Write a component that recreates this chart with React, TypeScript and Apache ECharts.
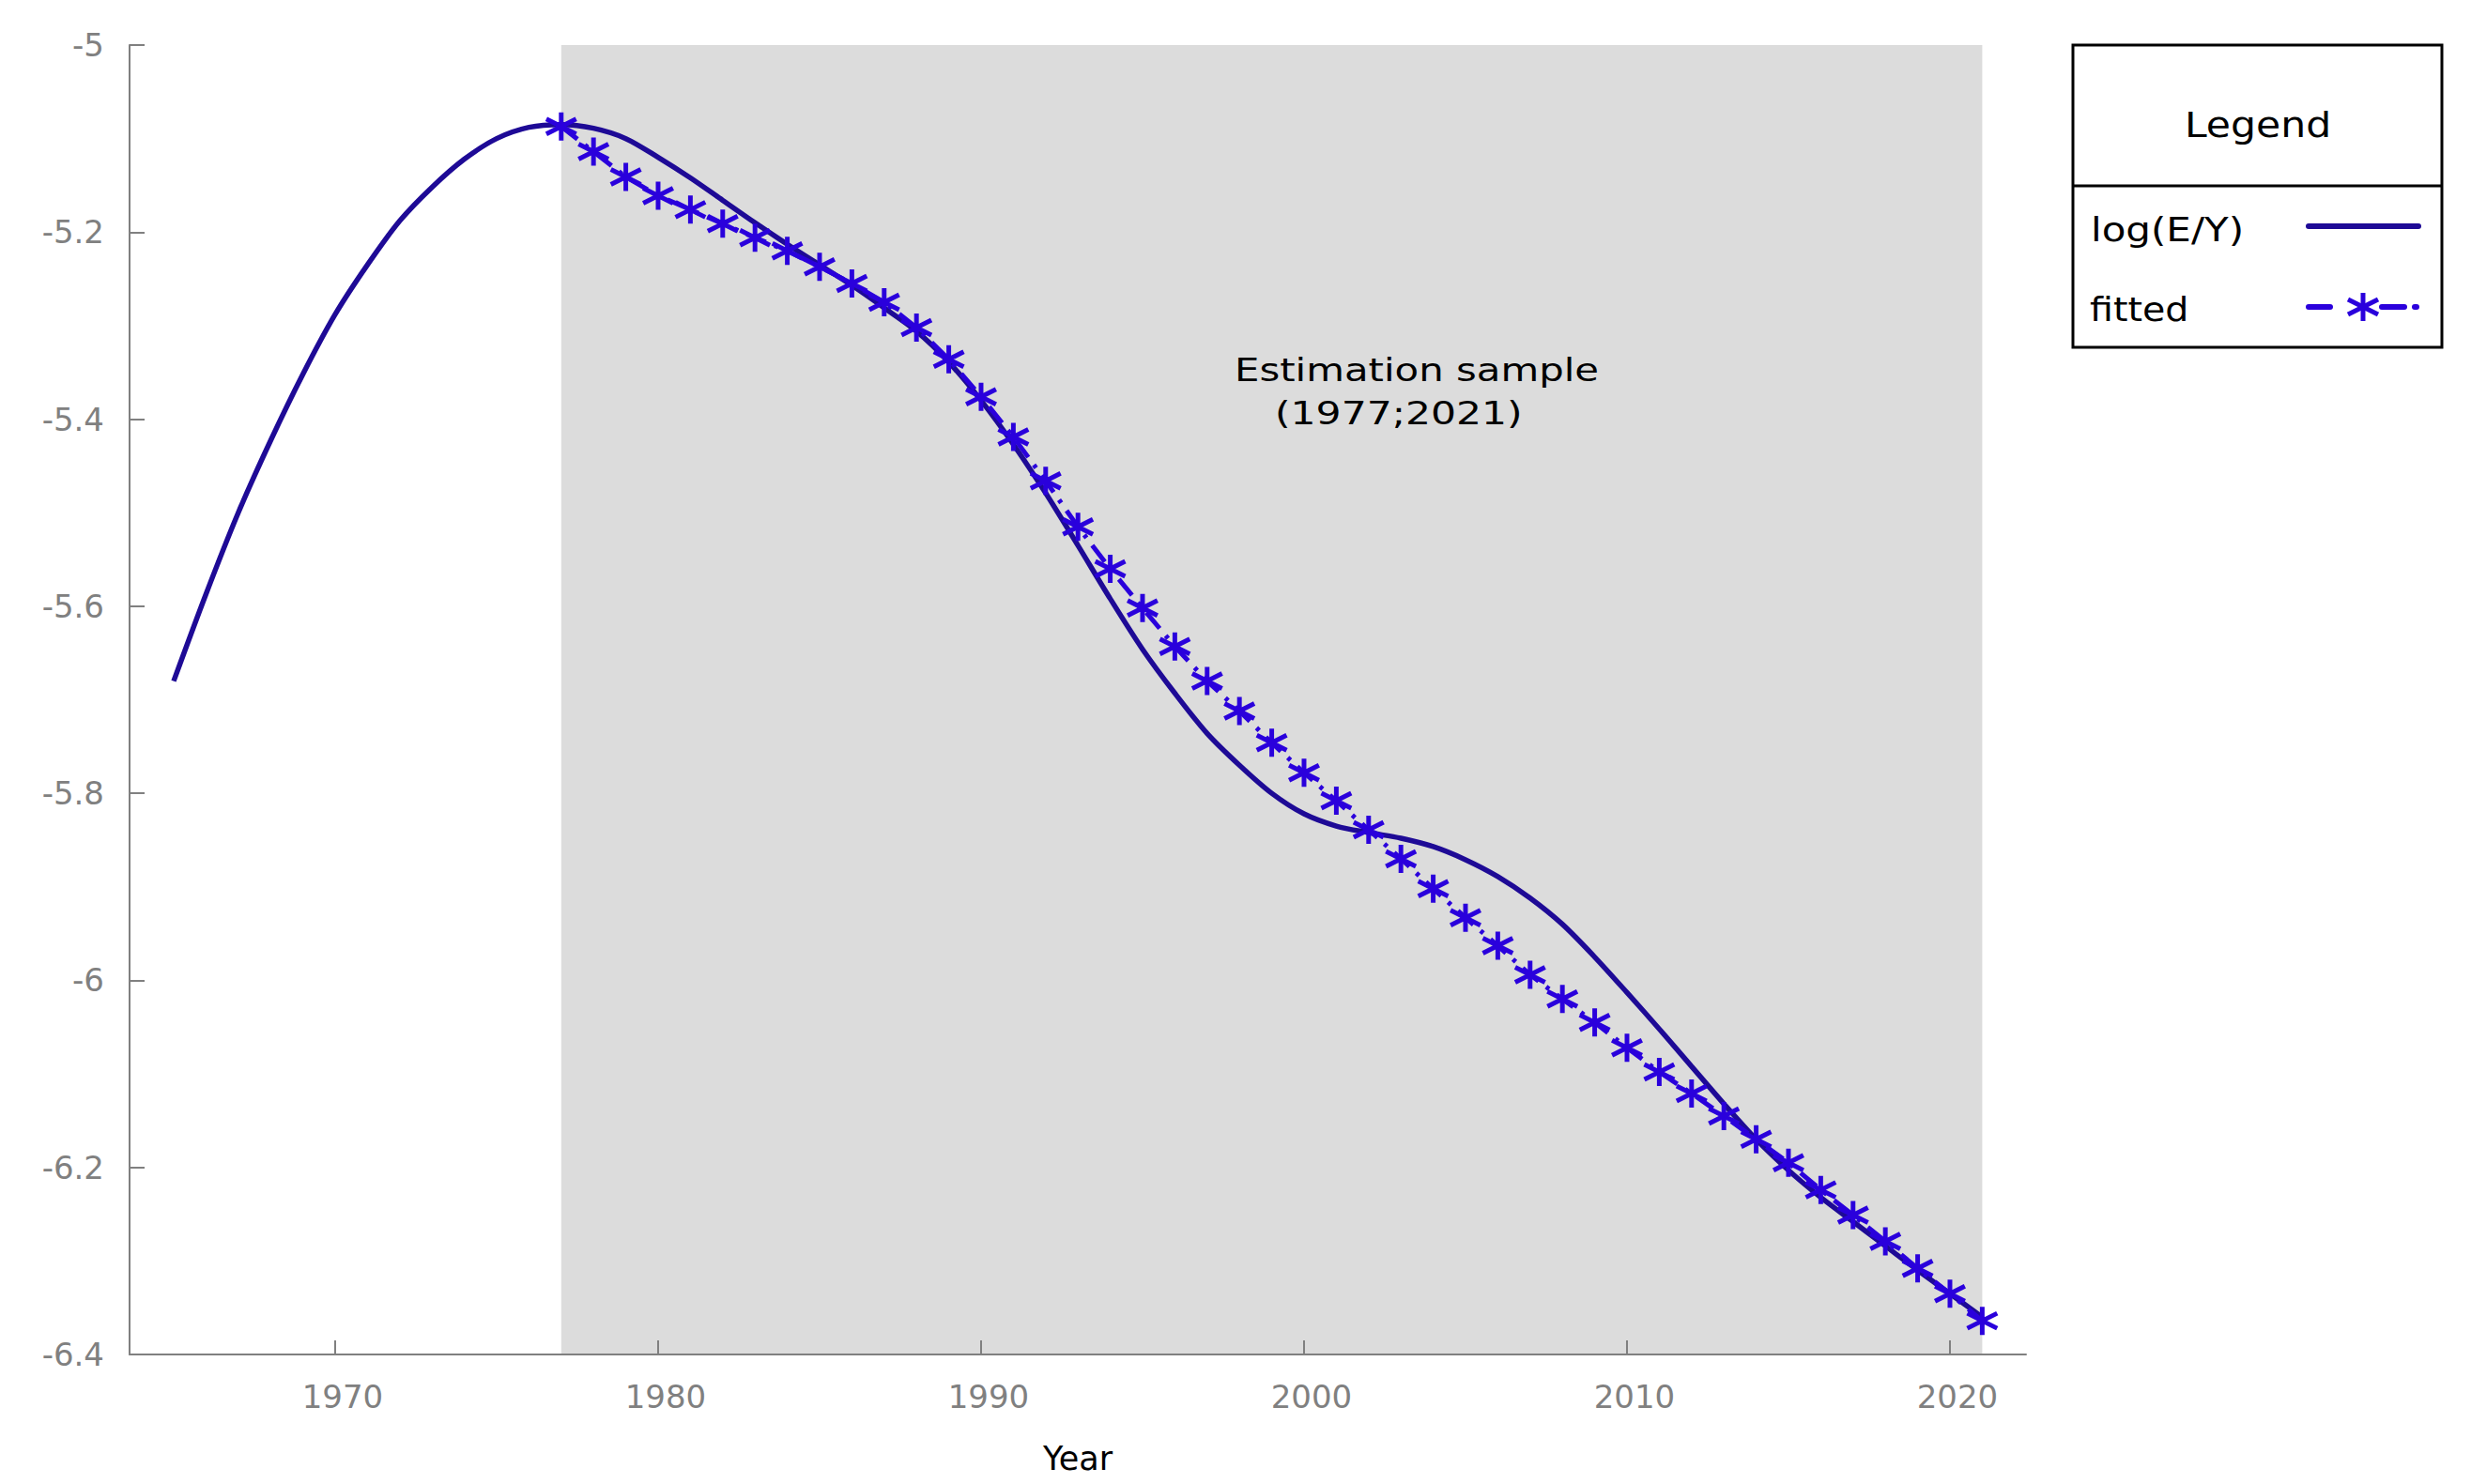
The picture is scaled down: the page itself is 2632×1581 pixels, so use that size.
import React, { useEffect, useRef } from "react";
import * as echarts from "echarts";

// ---- data ----
const yearsAll = [
  1965, 1966, 1967, 1968, 1969, 1970, 1971, 1972, 1973, 1974, 1975, 1976, 1977, 1978, 1979,
  1980, 1981, 1982, 1983, 1984, 1985, 1986, 1987, 1988, 1989, 1990, 1991, 1992, 1993, 1994,
  1995, 1996, 1997, 1998, 1999, 2000, 2001, 2002, 2003, 2004, 2005, 2006, 2007, 2008, 2009,
  2010, 2011, 2012, 2013, 2014, 2015, 2016, 2017, 2018, 2019, 2020, 2021,
];
const logEY = [
  -5.68, -5.587, -5.5, -5.423, -5.352, -5.288, -5.235, -5.188, -5.152, -5.122, -5.1, -5.088,
  -5.085, -5.089, -5.1, -5.12, -5.142, -5.166, -5.19, -5.213, -5.235, -5.257, -5.281, -5.306,
  -5.339, -5.38, -5.427, -5.479, -5.535, -5.592, -5.646, -5.693, -5.736, -5.77, -5.8, -5.822,
  -5.835, -5.842, -5.848, -5.857, -5.871, -5.889, -5.912, -5.94, -5.975, -6.013, -6.052, -6.092,
  -6.132, -6.17, -6.203, -6.232, -6.258, -6.284, -6.31, -6.335, -6.36,
];
const fittedYears = [
  1977, 1978, 1979, 1980, 1981, 1982, 1983, 1984, 1985, 1986, 1987, 1988, 1989, 1990, 1991,
  1992, 1993, 1994, 1995, 1996, 1997, 1998, 1999, 2000, 2001, 2002, 2003, 2004, 2005, 2006,
  2007, 2008, 2009, 2010, 2011, 2012, 2013, 2014, 2015, 2016, 2017, 2018, 2019, 2020, 2021,
];
const fitted = [
  -5.087, -5.114, -5.141, -5.161, -5.176, -5.191, -5.206, -5.22, -5.237, -5.255, -5.275, -5.302,
  -5.336, -5.376, -5.419, -5.466, -5.515, -5.56, -5.602, -5.643, -5.68, -5.712, -5.746, -5.778,
  -5.808, -5.839, -5.87, -5.902, -5.933, -5.963, -5.994, -6.02, -6.045, -6.072, -6.098, -6.121,
  -6.145, -6.17, -6.195, -6.224, -6.251, -6.279, -6.308, -6.335, -6.364,
];
const xTickYears = [1970, 1980, 1990, 2000, 2010, 2020];
const sampleRange = [1977, 2021];
const seriesNames = ["log(E/Y)", "fitted"];
const annotationLines = ["Estimation sample", "(1977;2021)"];

// ---- styles ----
const FONT = "DejaVu Sans";
const SOLID_COLOR = "#1e0a96";
const FIT_COLOR = "#2a00dc";
const AXIS_COLOR = "#808080";
const SHADE_COLOR = "#dcdcdc";

// six-armed asterisk made of three filled bars (consistent winding)
const STAR_BARS: number[][][] = [
  [[-2.5, -15], [-2.5, 15], [2.5, 15], [2.5, -15]],
  [[14.88, 10.24], [17.12, 5.76], [-14.88, -10.24], [-17.12, -5.76]],
  [[14.88, -10.24], [-17.12, 5.76], [-14.88, 10.24], [17.12, -5.76]],
];
const STAR_PATH =
  "path://" +
  STAR_BARS.map((bar) => "M" + bar.map((p) => p[0] + " " + p[1]).join(" L") + " Z").join(" ");

export default function App() {
  const ref = useRef<HTMLDivElement>(null);

  useEffect(() => {
    document.body.style.margin = "0";
    document.body.style.overflow = "hidden";
    if (!ref.current) return;
    const chart = echarts.init(ref.current, undefined, { renderer: "svg" });

    const legendStar = STAR_BARS.map((bar) => ({
      type: "polygon",
      shape: { points: bar.map((p) => [2517 + p[0], 327 + p[1]]) },
      style: { fill: FIT_COLOR },
    }));

    const textEl = (text: string, x: number, y: number, size: number, sx: number, align = "left", z = 20) => ({
      type: "text",
      x,
      y,
      scaleX: sx,
      z,
      style: {
        text,
        fontFamily: FONT,
        fontSize: size,
        fill: "#000000",
        textAlign: align,
        textVerticalAlign: "middle",
      },
    });

    const option: any = {
      animation: false,
      backgroundColor: "#ffffff",
      grid: { left: 138, right: 474, top: 48, bottom: 138, containLabel: false },
      xAxis: {
        type: "value",
        min: 1963.634,
        max: 2022.355,
        z: 10,
        name: "Year",
        nameLocation: "middle",
        nameGap: 93,
        nameTextStyle: { fontFamily: FONT, fontSize: 35, color: "#000000" },
        axisLine: { show: true, onZero: false, lineStyle: { color: AXIS_COLOR, width: 2 } },
        axisTick: {
          show: true,
          inside: true,
          length: 15,
          customValues: xTickYears,
          lineStyle: { color: AXIS_COLOR, width: 2 },
        },
        axisLabel: {
          show: true,
          customValues: xTickYears,
          margin: 28,
          padding: [0, 0, 0, 16],
          fontFamily: FONT,
          fontSize: 34,
          color: AXIS_COLOR,
          formatter: (v: number) => String(v),
        },
        splitLine: { show: false },
      },
      yAxis: {
        type: "value",
        min: -6.4,
        max: -5,
        interval: 0.2,
        z: 10,
        axisLine: { show: true, onZero: false, lineStyle: { color: AXIS_COLOR, width: 2 } },
        axisTick: { show: true, inside: true, length: 16, lineStyle: { color: AXIS_COLOR, width: 2 } },
        axisLabel: {
          show: true,
          margin: 27,
          fontFamily: FONT,
          fontSize: 34,
          color: AXIS_COLOR,
        },
        splitLine: { show: false },
      },
      series: [
        {
          type: "line",
          name: "shade",
          data: [],
          z: 1,
          silent: true,
          markArea: {
            silent: true,
            itemStyle: { color: SHADE_COLOR },
            data: [[{ xAxis: sampleRange[0], yAxis: -5 }, { xAxis: sampleRange[1], yAxis: -6.4 }]],
          },
        },
        {
          type: "line",
          name: seriesNames[0],
          data: yearsAll.map((y, i) => [y, logEY[i]]),
          z: 3,
          showSymbol: false,
          symbol: "none",
          smooth: 0.3,
          lineStyle: { color: SOLID_COLOR, width: 5.5 },
          itemStyle: { color: SOLID_COLOR },
        },
        {
          type: "line",
          name: seriesNames[1],
          data: fittedYears.map((y, i) => [y, fitted[i]]),
          z: 4,
          symbol: STAR_PATH,
          symbolSize: [34, 30],
          showSymbol: true,
          lineStyle: { color: FIT_COLOR, width: 5, type: [22, 10, 4, 10] },
          itemStyle: { color: FIT_COLOR, borderWidth: 0 },
        },
      ],
      graphic: [
        // annotation
        textEl(annotationLines[0], 1315, 394, 34, 1.23),
        textEl(annotationLines[1], 1358, 440, 34, 1.25),
        // legend box
        {
          type: "rect",
          shape: { x: 2208, y: 48, width: 393, height: 322 },
          style: { fill: "#ffffff", stroke: "#000000", lineWidth: 3 },
          z: 20,
        },
        {
          type: "line",
          shape: { x1: 2208, y1: 198, x2: 2601, y2: 198 },
          style: { stroke: "#000000", lineWidth: 3 },
          z: 21,
        },
        textEl("Legend", 2405, 133, 37, 1.15, "center", 21),
        textEl(seriesNames[0], 2227, 245, 35, 1.2, "left", 21),
        textEl(seriesNames[1], 2226, 330, 35, 1.13, "left", 21),
        {
          type: "line",
          shape: { x1: 2459, y1: 241, x2: 2576, y2: 241 },
          style: { stroke: SOLID_COLOR, lineWidth: 6, lineCap: "round" },
          z: 21,
        },
        {
          type: "line",
          shape: { x1: 2459, y1: 327, x2: 2482, y2: 327 },
          style: { stroke: FIT_COLOR, lineWidth: 6, lineCap: "round" },
          z: 21,
        },
        {
          type: "line",
          shape: { x1: 2537, y1: 327, x2: 2561, y2: 327 },
          style: { stroke: FIT_COLOR, lineWidth: 6, lineCap: "round" },
          z: 21,
        },
        {
          type: "line",
          shape: { x1: 2572, y1: 327, x2: 2574, y2: 327 },
          style: { stroke: FIT_COLOR, lineWidth: 6, lineCap: "round" },
          z: 21,
        },
        ...legendStar.map((g) => ({ ...g, z: 22 })),
      ],
    };

    chart.setOption(option);
    return () => {
      chart.dispose();
    };
  }, []);

  return <div ref={ref} style={{ width: "2632px", height: "1581px" }} />;
}
